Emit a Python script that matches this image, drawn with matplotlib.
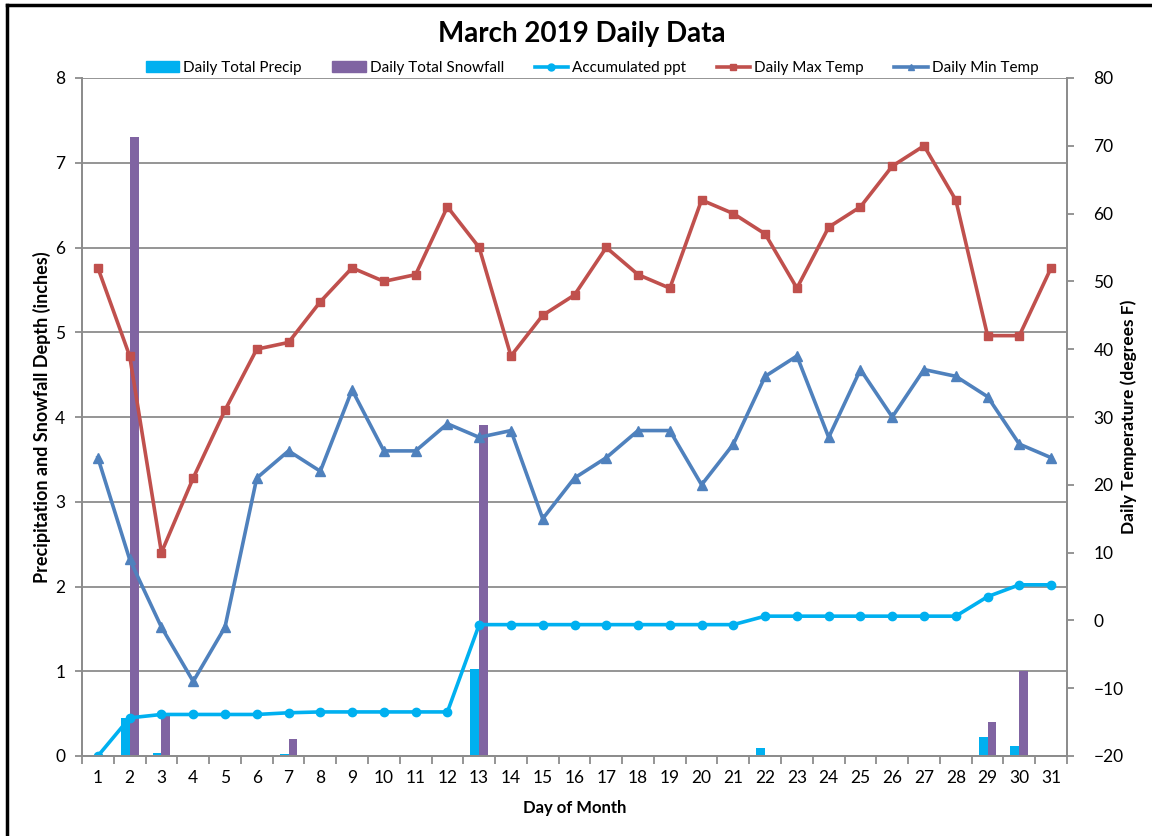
import matplotlib.pyplot as plt
import numpy as np
from matplotlib.lines import Line2D
from matplotlib.patches import Patch

plt.rcParams["font.family"] = ["Lato", "DejaVu Sans"]

# Day of month (March 2019)
days = list(range(1, 32))

# Left axis (inches)
daily_precip = [0.0, 0.45, 0.04, 0.0, 0.0, 0.0, 0.02, 0.01, 0.0, 0.0,
                0.0, 0.0, 1.03, 0.0, 0.0, 0.0, 0.0, 0.0, 0.0, 0.0,
                0.0, 0.10, 0.0, 0.0, 0.0, 0.0, 0.0, 0.0, 0.23, 0.12, 0.0]
daily_snow = [0.0, 7.3, 0.5, 0.0, 0.0, 0.0, 0.2, 0.0, 0.0, 0.0,
              0.0, 0.0, 3.9, 0.0, 0.0, 0.0, 0.0, 0.0, 0.0, 0.0,
              0.0, 0.0, 0.0, 0.0, 0.0, 0.0, 0.0, 0.0, 0.4, 1.0, 0.0]
accum_ppt = [0.0, 0.45, 0.49, 0.49, 0.49, 0.49, 0.51, 0.52, 0.52, 0.52,
             0.52, 0.52, 1.55, 1.55, 1.55, 1.55, 1.55, 1.55, 1.55, 1.55,
             1.55, 1.65, 1.65, 1.65, 1.65, 1.65, 1.65, 1.65, 1.88, 2.02, 2.02]

# Right axis (degrees F)
max_temp = [52, 39, 10, 21, 31, 40, 41, 47, 52, 50,
            51, 61, 55, 39, 45, 48, 55, 51, 49, 62,
            60, 57, 49, 58, 61, 67, 70, 62, 42, 42, 52]
min_temp = [24, 9, -1, -9, -1, 21, 25, 22, 34, 25,
            25, 29, 27, 28, 15, 21, 24, 28, 28, 20,
            26, 36, 39, 27, 37, 30, 37, 36, 33, 26, 24]

c_precip = "#00B0F0"
c_snow = "#8064A2"
c_max = "#C0504D"
c_min = "#4F81BD"
c_axis = "#8C8C8C"

fig = plt.figure(figsize=(11.52, 8.36), dpi=100)
ax = fig.add_axes([82 / 1152, 80 / 836, 985 / 1152, 678 / 836])
ax2 = ax.twinx()

x = np.array(days)
w = 0.28
ax.bar(x - w / 2, daily_precip, width=w, color=c_precip, zorder=2)
ax.bar(x + w / 2, daily_snow, width=w, color=c_snow, zorder=2)
ax.plot(x, accum_ppt, color=c_precip, lw=2.6, marker="o", ms=6, zorder=3)

ax2.plot(x, max_temp, color=c_max, lw=2.6, marker="s", ms=6)
ax2.plot(x, min_temp, color=c_min, lw=2.6, marker="^", ms=7)

ax.set_xlim(0.5, 31.5)
ax.set_ylim(0, 8)
ax2.set_ylim(-20, 80)
ax.set_yticks(range(0, 9))
ax2.set_yticks(range(-20, 81, 10))
ax.set_xticks(days)
ax.set_xticks(np.arange(0.5, 32, 1), minor=True)

ax.yaxis.grid(True, color=c_axis, lw=1.3, zorder=0)
ax.set_axisbelow(True)

for a in (ax, ax2):
    a.spines["top"].set_visible(False)
    for s in ("left", "right", "bottom"):
        a.spines[s].set_color(c_axis)
        a.spines[s].set_linewidth(1.3)
    a.tick_params(axis="y", colors=c_axis, labelcolor="black", labelsize=12.5,
                  length=5, width=1.3, direction="out")
ax.tick_params(axis="x", which="major", length=0, labelsize=12.5, pad=10)
ax.tick_params(axis="x", which="minor", length=6, width=1.3, colors=c_axis,
               direction="out")
ax.tick_params(axis="y", pad=7)
ax2.tick_params(axis="y", pad=14)

ax.set_xlabel("Day of Month", fontsize=12, fontweight="bold", labelpad=10)
ax.set_ylabel("Precipitation and Snowfall Depth (inches)", fontsize=13,
              fontweight="bold", labelpad=3)
ax2.set_ylabel("Daily Temperature (degrees F)", fontsize=12.5,
               fontweight="bold", labelpad=-2)

fig.suptitle("March 2019 Daily Data", fontsize=20, fontweight="bold",
             x=582 / 1152, y=0.975)

handles = [
    Patch(color=c_precip, label="Daily Total Precip"),
    Patch(color=c_snow, label="Daily Total Snowfall"),
    Line2D([], [], color=c_precip, lw=2.6, marker="o", ms=5, label="Accumulated ppt"),
    Line2D([], [], color=c_max, lw=2.6, marker="s", ms=5, label="Daily Max Temp"),
    Line2D([], [], color=c_min, lw=2.6, marker="^", ms=5, label="Daily Min Temp"),
]
fig.legend(handles=handles, loc="center", bbox_to_anchor=(592 / 1152, 1 - 68 / 836),
           ncol=5, frameon=False, fontsize=11, handlelength=2.2, handleheight=0.7,
           handletextpad=0.25, columnspacing=2.0)

# chart border (left and top edges visible in the frame)
fig.add_artist(Line2D([7 / 1152, 7 / 1152], [0, 1 - 5 / 836], color="black", lw=2.5))
fig.add_artist(Line2D([7 / 1152, 1], [1 - 5 / 836, 1 - 5 / 836], color="black", lw=2.5))

fig.savefig("out.png", dpi=100)
